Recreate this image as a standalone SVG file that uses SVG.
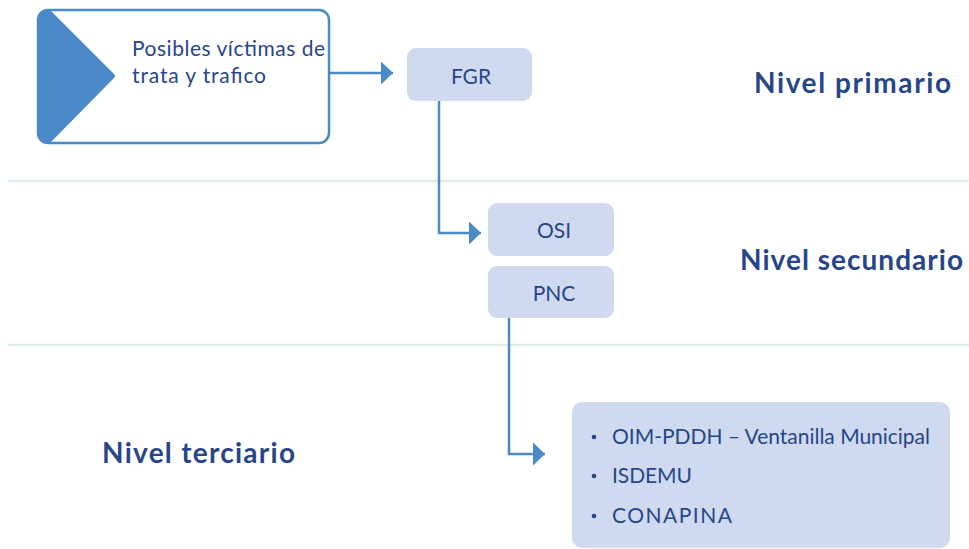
<svg xmlns="http://www.w3.org/2000/svg" width="969" height="549" viewBox="0 0 969 549">
<style>
  .sep { stroke: #dfeeed; stroke-width: 2.5; fill: none; }
  .conn { stroke: #4a8ac8; stroke-width: 2.5; fill: none; }
  .box { fill: #cfdaf0; }
  .txt { font-family: "Lato", "Liberation Sans", sans-serif; fill: #27468a; font-size: 21px; }
  .lvl { font-family: "Lato", "Liberation Sans", sans-serif; fill: #27468a; font-size: 28px; font-weight: bold; }
  .mid { text-anchor: middle; }
</style>
<defs>
  <marker id="arr" markerUnits="userSpaceOnUse" markerWidth="14" markerHeight="24" refX="12" refY="11.5" orient="auto">
    <path d="M0,0 L12,11.5 L0,23 z" fill="#4a8ac8"/>
  </marker>
  <clipPath id="mainclip">
    <rect x="38" y="10" width="291" height="133" rx="10"/>
  </clipPath>
</defs>
<rect width="969" height="549" fill="#ffffff"/>
<g id="separators">
  <line class="sep" x1="8" y1="181" x2="969" y2="181"/>
  <line class="sep" x1="8" y1="345" x2="969" y2="345"/>
</g>
<g id="connectors">
  <path class="conn" d="M329,73 H393" marker-end="url(#arr)"/>
  <path class="conn" d="M439,101 V233 H481" marker-end="url(#arr)"/>
  <path class="conn" d="M509,318 V454 H545" marker-end="url(#arr)"/>
</g>
<g id="start">
  <rect x="38" y="10" width="291" height="133" rx="10" fill="#ffffff" stroke="#4a8ac8" stroke-width="2.5"/>
  <path d="M30,-6 L50,10 L114,74 Q116,76 114,78 L50,143 L30,160 Z" fill="#4a8ac8" clip-path="url(#mainclip)"/>
  <text class="txt" x="132" y="56" font-size="22" textLength="193">Posibles víctimas de</text>
  <text class="txt" x="132" y="83" font-size="22" textLength="134">trata y trafico</text>
</g>
<g id="fgr">
  <rect class="box" x="407" y="48" width="125" height="53" rx="9"/>
  <text class="txt mid" x="471" y="84" font-size="22">FGR</text>
</g>
<g id="osi">
  <rect class="box" x="488" y="203" width="126" height="53" rx="9"/>
  <text class="txt mid" x="554" y="238" font-size="22">OSI</text>
</g>
<g id="pnc">
  <rect class="box" x="488" y="266" width="126" height="52" rx="9"/>
  <text class="txt mid" x="554" y="301" font-size="22">PNC</text>
</g>
<g id="terciario-box">
  <rect class="box" x="572" y="402" width="378" height="146" rx="10"/>
  <circle cx="594" cy="437" r="2.3" fill="#27468a"/>
  <circle cx="594" cy="476" r="2.3" fill="#27468a"/>
  <circle cx="594" cy="516" r="2.3" fill="#27468a"/>
  <text class="txt" x="612" y="444" textLength="318">OIM-PDDH – Ventanilla Municipal</text>
  <text class="txt" x="612" y="483" textLength="80">ISDEMU</text>
  <text class="txt" x="612" y="523" textLength="120">CONAPINA</text>
</g>
<g id="levels">
  <text class="lvl" x="754" y="93" textLength="197">Nivel primario</text>
  <text class="lvl" x="740" y="270" textLength="223">Nivel secundario</text>
  <text class="lvl" x="102" y="463" textLength="193">Nivel terciario</text>
</g>
</svg>
